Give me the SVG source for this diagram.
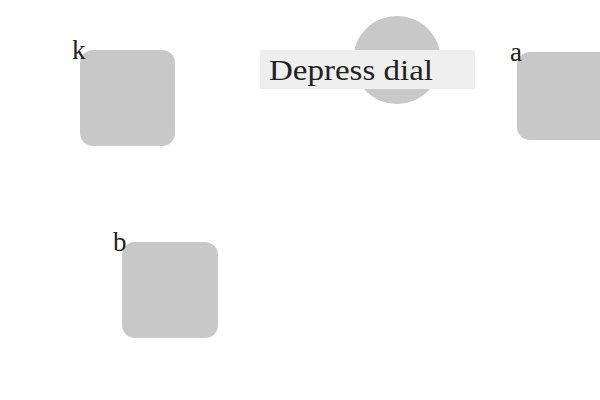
<svg xmlns="http://www.w3.org/2000/svg" width="600" height="400" viewBox="0 0 600 400">
<style>
.node{fill:#c8c8c8}
.lbl{font-family:"Liberation Serif",serif;font-size:27px;fill:#222}
.tag{fill:#efefef}
.tagtxt{font-family:"Liberation Serif",serif;font-size:30px;fill:#222}
</style>
<rect width="600" height="400" fill="#fff"/>
<g id="connectors"></g>
<g id="node-k">
<rect class="node" x="80" y="50" width="95" height="96" rx="13"/>
<text class="lbl" x="72" y="59">k</text>
</g>
<g id="node-a">
<rect class="node" x="517" y="52" width="95" height="88" rx="13"/>
<text class="lbl" x="510" y="61">a</text>
</g>
<g id="node-b">
<rect class="node" x="122" y="242" width="96" height="96" rx="13"/>
<text class="lbl" x="113" y="251">b</text>
</g>
<g id="node-dial">
<circle class="node" cx="397" cy="60" r="44"/>
<rect class="tag" x="260" y="50" width="215" height="39"/>
<text class="tagtxt" x="269" y="80" textLength="164" lengthAdjust="spacingAndGlyphs">Depress dial</text>
</g>
</svg>
